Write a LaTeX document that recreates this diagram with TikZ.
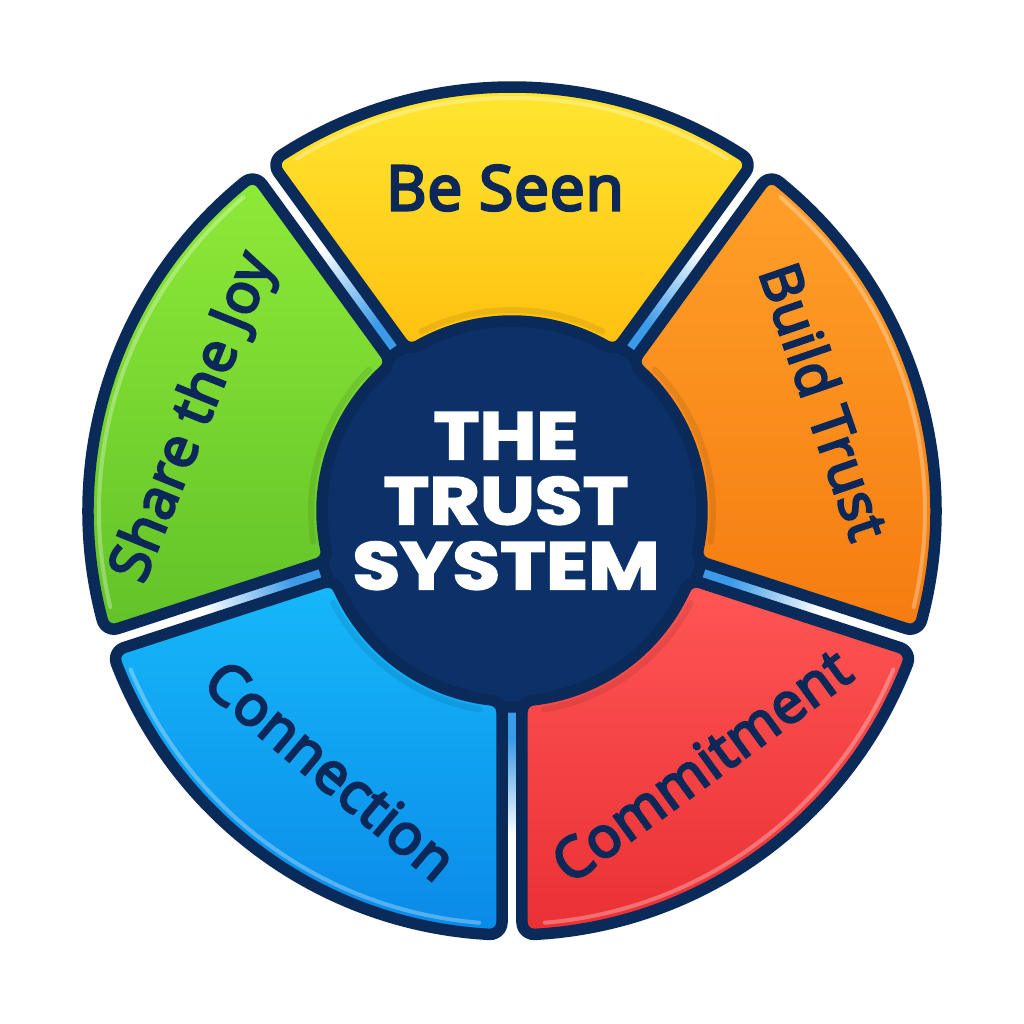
\documentclass[tikz,border=0pt]{standalone}
\usepackage{fontspec}
\setmainfont{Open Sans}
\newfontfamily\labelfont[FakeBold=4.5,LetterSpace=1.5]{Open Sans}
\newfontfamily\titlefont[BoldFeatures={FakeBold=2.5}]{Poppins}
\definecolor{navyb}{RGB}{10,42,90}
\definecolor{diskfill}{RGB}{11,49,104}
\definecolor{txtnavy}{RGB}{12,40,88}
\definecolor{gapblue}{RGB}{60,155,232}
\definecolor{yelT}{RGB}{255,234,52}
\definecolor{yelB}{RGB}{255,192,16}
\definecolor{grnT}{RGB}{142,234,56}
\definecolor{grnB}{RGB}{98,194,40}
\definecolor{orgT}{RGB}{255,160,42}
\definecolor{orgB}{RGB}{245,124,16}
\definecolor{redT}{RGB}{255,86,84}
\definecolor{redB}{RGB}{234,48,52}
\definecolor{bluT}{RGB}{22,184,250}
\definecolor{bluB}{RGB}{10,138,232}
\pgfdeclareradialshading{gapshade}{\pgfpoint{0bp}{0bp}}{color(0bp)=(gapblue); color(13.5bp)=(gapblue); color(19bp)=(white); color(25bp)=(white); color(50bp)=(white)}
\def\Ro{424}\def\Ri{190}\def\hh{10}\def\rr{12}
\newcommand\trustseg[4]{%
  \pgfmathsetmacro\tho{#1+asin((\hh+\rr)/(\Ro-\rr))}%
  \pgfmathsetmacro\thoo{#2-asin((\hh+\rr)/(\Ro-\rr))}%
  \pgfmathsetmacro\thi{#1+asin((\hh+\rr)/(\Ri+\rr))}%
  \pgfmathsetmacro\thii{#2-asin((\hh+\rr)/(\Ri+\rr))}%
  \pgfmathsetmacro\Rom{\Ro-\rr}%
  \pgfmathsetmacro\Rip{\Ri+\rr}%
  \pgfmathsetmacro\pa{#2+90}%
  \pgfmathsetmacro\pb{#1-90}%
  \pgfmathsetmacro\pc{#1+270}%
  \pgfmathsetmacro\qa{\thii+180}%
  \pgfmathsetmacro\qb{\thi+180}%
  \pgfmathsetmacro\qc{\tho+360}%
  \shadedraw[segstyle, top color=#3, bottom color=#4]
    (\tho:\Ro pt) arc[start angle=\tho, end angle=\thoo, radius=\Ro pt]
    arc[start angle=\thoo, end angle=\pa, radius=\rr pt]
    -- ([shift={(\pa:\rr pt)}]\thii:\Rip pt)
    arc[start angle=\pa, end angle=\qa, radius=\rr pt]
    arc[start angle=\thii, end angle=\thi, radius=\Ri pt]
    arc[start angle=\qb, end angle=\pc, radius=\rr pt]
    -- ([shift={(\pb:\rr pt)}]\tho:\Rom pt)
    arc[start angle=\pc, end angle=\qc, radius=\rr pt]
    -- cycle;
  \pgfmathsetmacro\hs{\tho+1.5}\pgfmathsetmacro\he{\thoo-1.5}%
  \draw[bevlight] (\hs:\Ro-11pt) arc[start angle=\hs, end angle=\he, radius=\Ro pt-11pt];
  \pgfmathsetmacro\ds{\thi+3}\pgfmathsetmacro\de{\thii-3}%
  \draw[bevdark] (\ds:\Ri+11pt) arc[start angle=\ds, end angle=\de, radius=\Ri pt+11pt];
}
\begin{document}
\begin{tikzpicture}[x=1pt,y=1pt,
  segstyle/.style={draw=navyb, line width=11.5pt, line join=round},
  bevlight/.style={white, opacity=0.3, line width=4pt, line cap=round},
  bevdark/.style={black, opacity=0.08, line width=6pt, line cap=round},
  lbl/.style={inner sep=0pt, text=txtnavy, font=\labelfont\fontsize{56}{64}\selectfont},
  title/.style={inner sep=0pt, text=white, align=center, xscale=1.16, font=\titlefont\bfseries\fontsize{67}{65}\selectfont}]
\useasboundingbox[fill=white] (-512pt,-513pt) rectangle (512pt,511pt);
\shade[shading=gapshade] (0,0) circle (426pt);
\filldraw[fill=diskfill, draw=navyb, line width=11.5pt] (0,0) circle (196pt);
\trustseg{54}{126}{yelT}{yelB}
\trustseg{126}{198}{grnT}{grnB}
\trustseg{198}{270}{bluT}{bluB}
\trustseg{270}{342}{redT}{redB}
\trustseg{342}{414}{orgT}{orgB}
\node[lbl, font=\labelfont\fontsize{62}{70}\selectfont] (beseen) at (-7pt,323pt) {Be Seen};
\node[lbl, rotate=68] (share) at (-317pt,93pt) {Share the Joy};
\node[lbl, rotate=-71] (build) at (313pt,110pt) {Build Trust};
\node[lbl, rotate=-40] (conn) at (-181pt,-259pt) {Connection};
\node[lbl, rotate=36] (commit) at (189pt,-254pt) {Commitment};
\node[title] (ttl) at (-6pt,10pt) {THE\\TRUST\\SYSTEM};
\end{tikzpicture}
\end{document}
